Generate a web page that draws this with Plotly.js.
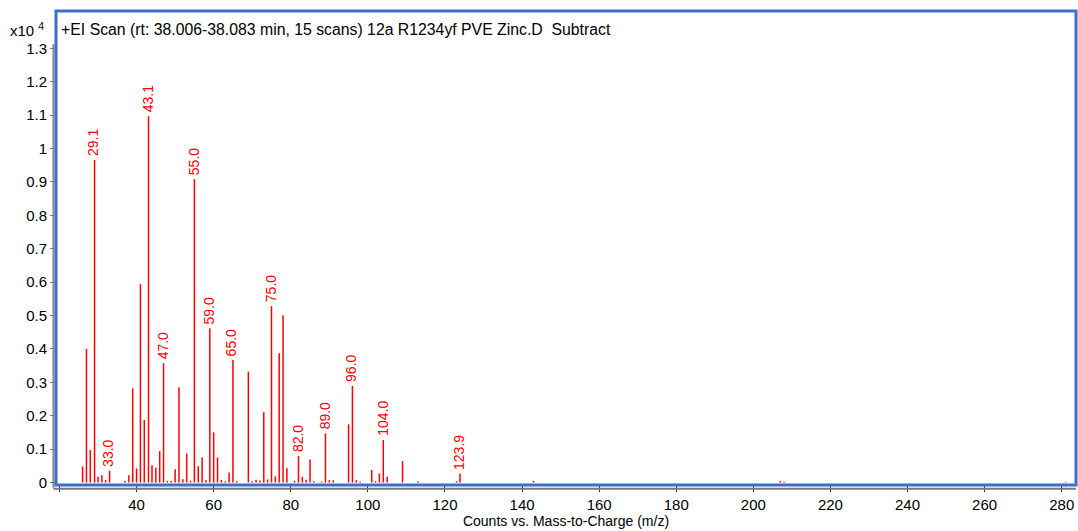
<!DOCTYPE html>
<html>
<head>
<meta charset="utf-8">
<script src="https://cdn.plot.ly/plotly-3.0.1.min.js"></script>
<style>
html,body{margin:0;padding:0;background:#fff;}
#chart{width:1078px;height:531px;}
</style>
</head>
<body>
<div id="chart"></div>
<script>
// m/z values of the spectrum sticks
const mzValues = [26,27,28,29.1,30,31,32,33,37,38,39,40,41,42,43.1,44,45,46,47,48,49,50,51,52,53,54,55,56,57,58,59,60,61,62,63,64,65,66,69,70,71,72,73,74,75,76,77,78,79,81,82,83,84,85,86,88,89,90,91,95,96,97,98,101,102,103,104,105,109,113,123,123.9,143,207,208,281];
// abundances in counts x10^4
const abundances = [0.048,0.40,0.097,0.966,0.017,0.022,0.007,0.035,0.005,0.022,0.282,0.042,0.594,0.187,1.097,0.052,0.044,0.094,0.357,0.005,0.005,0.040,0.285,0.010,0.087,0.005,0.908,0.049,0.075,0.007,0.462,0.150,0.075,0.008,0.004,0.030,0.367,0.004,0.332,0.004,0.008,0.006,0.210,0.009,0.528,0.018,0.387,0.501,0.043,0.005,0.079,0.017,0.008,0.069,0.004,0.003,0.147,0.007,0.007,0.174,0.289,0.007,0.003,0.037,0.004,0.027,0.127,0.017,0.064,0.004,0.004,0.027,0.005,0.005,0.002,0.002];
// labelled peaks
const labelledPeaks = [29.1,33.0,43.1,47.0,55.0,59.0,65.0,75.0,82.0,89.0,96.0,104.0,123.9];
// axis ticks
const xTickVals = [20,40,60,80,100,120,140,160,180,200,220,240,260,280];
const xTickText = ['','40','60','80','100','120','140','160','180','200','220','240','260','280'];
const yTickVals = [0,0.1,0.2,0.3,0.4,0.5,0.6,0.7,0.8,0.9,1,1.1,1.2,1.3];
const yTickText = ['0','0.1','0.2','0.3','0.4','0.5','0.6','0.7','0.8','0.9','1','1.1','1.2','1.3'];
const titleText = '+EI Scan (rt: 38.006-38.083 min, 15 scans) 12a R1234yf PVE Zinc.D  Subtract';
const xTitle = 'Counts vs. Mass-to-Charge (m/z)';

const FONT = 'Liberation Sans, Arial, sans-serif';

const xs = [], ys = [];
mzValues.forEach((m, i) => { xs.push(m, m, null); ys.push(0, abundances[i], null); });

const trace = {
  x: xs, y: ys, type: 'scatter', mode: 'lines',
  line: {color: '#ff0000', width: 1.5}, hoverinfo: 'skip', showlegend: false
};

const annotations = labelledPeaks.map(m => {
  const idx = mzValues.findIndex(v => Math.abs(v - m) < 1e-6);
  return {
    x: m, y: abundances[idx], xref: 'x', yref: 'y',
    text: m.toFixed(1), textangle: -90, showarrow: false,
    xanchor: 'center', yanchor: 'bottom', yshift: 2, xshift: -1,
    font: {family: FONT, size: 14, color: '#ff0000'}
  };
});
annotations.push({
  x: -0.047, y: 0.962, xref: 'paper', yref: 'paper', xanchor: 'left', yanchor: 'middle',
  text: 'x10 <sup>4</sup>', showarrow: false,
  font: {family: FONT, size: 15, color: '#000'}
});

const layout = {
  width: 1078, height: 531,
  margin: {l: 56, r: 2, t: 11, b: 46},
  paper_bgcolor: '#ffffff', plot_bgcolor: '#ffffff',
  font: {family: FONT, size: 14, color: '#000'},
  title: {
    text: titleText, xref: 'paper', x: 0.005, xanchor: 'left',
    yref: 'container', y: 1 - 29/531, yanchor: 'middle',
    font: {family: FONT, size: 15.8, color: '#000'}
  },
  xaxis: {
    range: [19.1, 283.7], tickmode: 'array', tickvals: xTickVals, ticktext: xTickText,
    ticks: 'outside', ticklen: 6, tickcolor: '#333', tickwidth: 1,
    showgrid: false, zeroline: false, showline: false,
    tickfont: {size: 15},
    title: {text: xTitle, font: {size: 14}, standoff: 4}
  },
  yaxis: {
    range: [-0.0075, 1.412], tickmode: 'array', tickvals: yTickVals, ticktext: yTickText,
    ticks: 'outside', ticklen: 5, tickcolor: '#777', tickwidth: 1,
    showgrid: false, zeroline: false, showline: false,
    tickfont: {size: 15}
  },
  shapes: [
    {type: 'line', xref: 'paper', yref: 'paper', x0: -0.0025, x1: -0.0025, y0: -0.006, y1: 0.93, line: {color: '#888', width: 2}},
    {type: 'line', xref: 'paper', yref: 'paper', x0: -0.0025, x1: 1, y0: -0.008, y1: -0.008, line: {color: '#777', width: 2}},
    {type: 'rect', xref: 'paper', yref: 'paper', x0: 0, x1: 1, y0: 0, y1: 1, line: {color: '#3b6fc9', width: 3}}
  ],
  annotations: annotations
};

Plotly.newPlot('chart', [trace], layout, {displayModeBar: false, staticPlot: true});
</script>
</body>
</html>
